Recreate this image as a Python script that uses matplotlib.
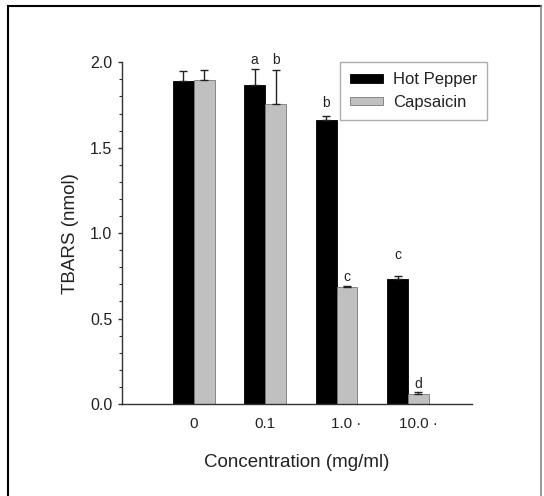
import numpy as np
import matplotlib
matplotlib.use('Agg')
import matplotlib.pyplot as plt
import matplotlib.transforms as mtransforms
from matplotlib.lines import Line2D
from matplotlib.ticker import MultipleLocator, FormatStrFormatter

plt.rcParams['font.family'] = ['Liberation Sans', 'DejaVu Sans']

# Data
concentrations = ['0', '0.1', '1.0 \u00b7', '10.0 \u00b7']
hot_pepper = [1.89, 1.87, 1.66, 0.73]
hot_pepper_err = [0.062, 0.09, 0.024, 0.021]
capsaicin = [1.895, 1.754, 0.683, 0.061]
capsaicin_err = [0.058, 0.20, 0.008, 0.007]
hot_letters = ['', 'a', 'b', 'c']
hot_letter_y = [None, 2.014, 1.760, 0.872]
cap_letters = ['', 'b', 'c', 'd']
cap_letter_y = [None, 2.014, 0.745, 0.115]

fig = plt.figure(figsize=(5.44, 4.96), dpi=100)
ax = fig.add_axes([122/544, 1-404/496, 350/544, 341.7/496])

x = np.arange(len(concentrations))
w = 0.292
err_kw = dict(ecolor='#222222', elinewidth=1, capsize=3.1, capthick=1)

ax.bar(x - w/2, hot_pepper, w, color='black', edgecolor='black', linewidth=0.6,
       yerr=[np.zeros(4), hot_pepper_err], error_kw=err_kw, label='Hot Pepper')
ax.bar(x + w/2, capsaicin, w, color='#c0c0c0', edgecolor='#777777', linewidth=0.6,
       yerr=[np.zeros(4), capsaicin_err], error_kw=err_kw, label='Capsaicin')

# significance letters
for i in range(len(x)):
    if hot_letters[i]:
        ax.text(x[i] - w/2, hot_letter_y[i], hot_letters[i], ha='center', va='center',
                fontsize=10, color='#222222', clip_on=False)
    if cap_letters[i]:
        ax.text(x[i] + w/2, cap_letter_y[i], cap_letters[i], ha='center', va='center',
                fontsize=10, color='#222222', clip_on=False)

ax.set_xlim(-1.005, 3.897)
ax.set_ylim(0, 2.0)

for s in ['top', 'right']:
    ax.spines[s].set_visible(False)
for s in ['left', 'bottom']:
    ax.spines[s].set_color('#333333')
    ax.spines[s].set_linewidth(1)

ax.yaxis.set_major_locator(MultipleLocator(0.5))
ax.yaxis.set_minor_locator(MultipleLocator(0.1))
ax.yaxis.set_major_formatter(FormatStrFormatter('%.1f'))
ax.tick_params(axis='y', which='major', length=3, width=1, color='#333333',
               labelsize=11.5, pad=4, labelcolor='#222222')
ax.tick_params(axis='y', which='minor', length=2, width=0.8, color='#333333')

ax.set_xticks(x)
ax.set_xticklabels(concentrations)
ax.tick_params(axis='x', length=0, labelsize=11, pad=9, labelcolor='#222222')
shift = mtransforms.ScaledTranslation(10/100, 0, fig.dpi_scale_trans)
for lab in ax.get_xticklabels()[2:]:
    lab.set_transform(lab.get_transform() + shift)

ax.set_xlabel('Concentration (mg/ml)', fontsize=13.5, labelpad=17, color='#222222')
ax.set_ylabel('TBARS (nmol)', fontsize=13.5, labelpad=8, color='#222222')

leg = ax.legend(loc='upper right', bbox_to_anchor=(487/544, 1-62.3/496),
                bbox_transform=fig.transFigure, fancybox=False, frameon=True,
                fontsize=12, handlelength=2.0, handleheight=0.42,
                handletextpad=0.55, labelspacing=0.45, borderpad=0.6,
                borderaxespad=0)
leg.get_frame().set_edgecolor('#999999')
leg.get_frame().set_linewidth(1)
for t in leg.get_texts():
    t.set_color('#222222')

# outer frame of the figure panel
fig.add_artist(Line2D([8/544, 8/544], [0, 1-6/496], transform=fig.transFigure,
                      color='black', linewidth=1.5))
fig.add_artist(Line2D([8/544, 541/544], [1-6/496, 1-6/496], transform=fig.transFigure,
                      color='black', linewidth=1.5))
fig.add_artist(Line2D([541/544, 541/544], [0, 1-6/496], transform=fig.transFigure,
                      color='#888888', linewidth=1.2))

fig.savefig('out.png', dpi=100)
